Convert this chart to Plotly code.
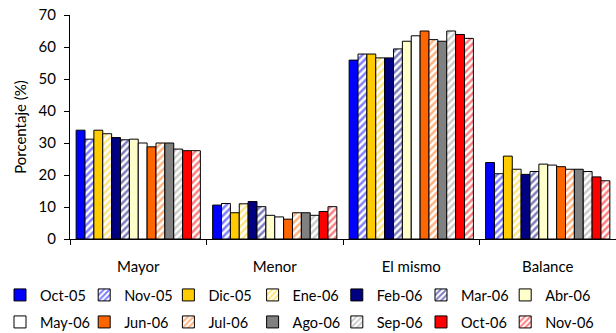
import plotly.graph_objects as go

categories = ["Mayor", "Menor", "El mismo", "Balance"]
series_names = ["Oct-05", "Nov-05", "Dic-05", "Ene-06", "Feb-06", "Mar-06", "Abr-06",
                "May-06", "Jun-06", "Jul-06", "Ago-06", "Sep-06", "Oct-06", "Nov-06"]
mayor = [34.0, 31.2, 34.0, 32.9, 31.7, 31.0, 31.2, 30.0, 28.8, 30.0, 30.0, 28.1, 27.6, 27.6]
menor = [10.6, 11.1, 8.2, 11.0, 11.7, 10.1, 7.4, 6.9, 6.2, 8.2, 8.2, 7.4, 8.6, 10.1]
el_mismo = [55.9, 57.8, 57.8, 56.6, 56.6, 59.4, 61.8, 63.5, 65.0, 62.3, 61.8, 65.0, 63.9, 62.7]
balance = [23.9, 20.4, 25.9, 21.8, 20.2, 21.1, 23.4, 23.1, 22.6, 21.8, 21.8, 21.1, 19.4, 18.2]

colors = ["#0000FF", "#0000FF", "#FFCC00", "#FFCC00", "#000080", "#000080", "#FFFFCC",
          "#FFFFFF", "#FF6600", "#FF6600", "#808080", "#999999", "#FF0000", "#FF0000"]
hatched = [False, True, False, True, False, True, False,
           False, False, True, False, True, False, True]

FONT = "Lato"
W, H = 616, 333
fig = go.Figure()
legends = {}
for i, name in enumerate(series_names):
    vals = [mayor[i], menor[i], el_mismo[i], balance[i]]
    if hatched[i]:
        marker = dict(color="white", line=dict(color="black", width=1),
                      pattern=dict(shape="/", fgcolor=colors[i], bgcolor="white",
                                   size=5, solidity=0.5, fillmode="overlay"))
    else:
        marker = dict(color=colors[i], line=dict(color="black", width=1))
    lid = "legend" if i == 0 else f"legend{i + 1}"
    fig.add_trace(go.Bar(name=name, x=categories, y=vals, marker=marker, legend=lid))
    col, row = i % 7, i // 7
    legends[lid] = dict(orientation="h", xref="container", yref="container",
                        x=(84.2 * col) / W, xanchor="left",
                        y=(H - (295 + 27 * row)) / H, yanchor="middle",
                        font=dict(family=FONT, size=14.5), itemwidth=30,
                        bgcolor="rgba(0,0,0,0)")

fig.update_layout(
    width=W, height=H,
    barmode="group", bargap=0.09, bargroupgap=0,
    plot_bgcolor="white", paper_bgcolor="white",
    margin=dict(l=0, r=0, t=15, b=94, autoexpand=False),
    font=dict(family=FONT, size=15, color="black"),
    showlegend=True,
    xaxis=dict(domain=[70 / W, 1], showline=True, linecolor="black", linewidth=1,
               ticks="outside", tickson="boundaries", ticklen=5, tickcolor="black",
               tickfont=dict(size=15), showgrid=False, ticklabelstandoff=14),
    yaxis=dict(range=[0, 70], dtick=10, showline=True, linecolor="black", linewidth=1,
               ticks="outside", ticklen=5, tickcolor="black", showgrid=False,
               zeroline=False, tickfont=dict(size=15), ticklabelstandoff=5,
               title=dict(text="Porcentaje (%)", font=dict(size=15), standoff=8)),
)
fig.update_layout(**legends)

fig.write_html("out.html", config={"displayModeBar": False},
               post_script="document.body.style.margin='0px';")
